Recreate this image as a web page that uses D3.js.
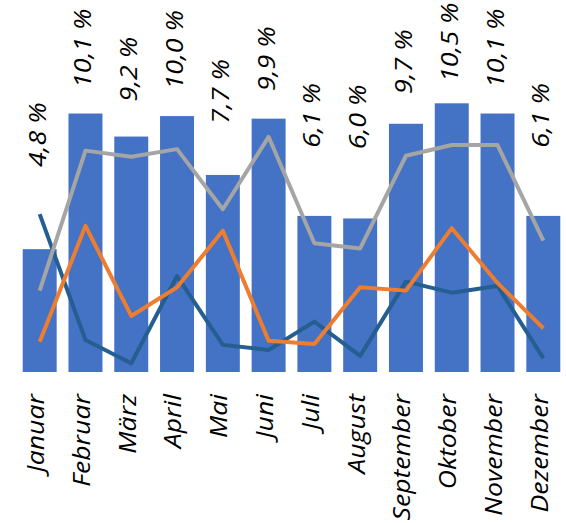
<!DOCTYPE html>
<html>
<head>
<meta charset="utf-8">
<script src="https://cdn.jsdelivr.net/npm/d3@7"></script>
<style>
  html, body { margin: 0; padding: 0; background: #fff; }
  svg { display: block; }
  text { font-family: "Open Sans", sans-serif; font-style: italic; fill: #000; }
</style>
</head>
<body>
<svg id="chart" width="566" height="523"></svg>
<script>
const months = ["Januar","Februar","März","April","Mai","Juni","Juli","August","September","Oktober","November","Dezember"];
const barValues = [4.8, 10.1, 9.2, 10.0, 7.7, 9.9, 6.1, 6.0, 9.7, 10.5, 10.1, 6.1];
const barLabels = ["4,8 %","10,1 %","9,2 %","10,0 %","7,7 %","9,9 %","6,1 %","6,0 %","9,7 %","10,5 %","10,1 %","6,1 %"];
const tealValues = [6.17, 1.25, 0.34, 3.75, 1.06, 0.86, 1.97, 0.63, 3.53, 3.10, 3.36, 0.54];
const orangeValues = [1.18, 5.71, 2.19, 3.31, 5.52, 1.22, 1.09, 3.31, 3.18, 5.62, 3.48, 1.71];
const grayValues = [3.18, 8.65, 8.41, 8.71, 6.36, 9.19, 5.03, 4.83, 8.45, 8.87, 8.87, 5.13];

const svg = d3.select("#chart");

const x = d3.scaleBand().domain(months).range([16.8, 566.2]).paddingInner(0.258).paddingOuter(0.129);
const y = d3.scaleLinear().domain([0, 10.5]).range([372, 103.3]);
const labelY = d3.scaleLinear().domain([0, 10.5]).range([238.7, 82.0]);
const cx = m => x(m) + x.bandwidth() / 2;

// bars
svg.append("g").selectAll("rect").data(months).join("rect")
  .attr("x", d => x(d))
  .attr("width", x.bandwidth())
  .attr("y", (d, i) => y(barValues[i]))
  .attr("height", (d, i) => y(0) - y(barValues[i]))
  .attr("fill", "#4472C4");

// lines
const line = d3.line()
  .x((d, i) => cx(months[i]))
  .y(d => y(d));

[[tealValues, "#255E91"], [orangeValues, "#ED7D31"], [grayValues, "#A5A5A5"]].forEach(([vals, col]) => {
  svg.append("path")
    .datum(vals)
    .attr("d", line)
    .attr("fill", "none")
    .attr("stroke", col)
    .attr("stroke-width", 4)
    .attr("stroke-linejoin", "round");
});

// data labels
svg.append("g").selectAll("text").data(barLabels).join("text")
  .attr("transform", (d, i) => `translate(${cx(months[i])},${labelY(barValues[i])}) rotate(-90) scale(1.12,1)`)
  .attr("text-anchor", "start")
  .attr("dy", "0.25em")
  .attr("font-size", 24)
  .text(d => d);

// month labels (axis)
const xAxis = d3.axisBottom(x).tickSize(0).tickPadding(0);
const ax = svg.append("g").attr("transform", "translate(0,372)").call(xAxis);
ax.select(".domain").remove();
ax.selectAll(".tick text")
  .attr("font-family", null)
  .attr("font-size", 24)
  .attr("text-anchor", "end")
  .attr("y", 0)
  .attr("dy", "0.18em")
  .attr("transform", "translate(0,22) rotate(-90) scale(1.11,1)");
</script>
</body>
</html>
